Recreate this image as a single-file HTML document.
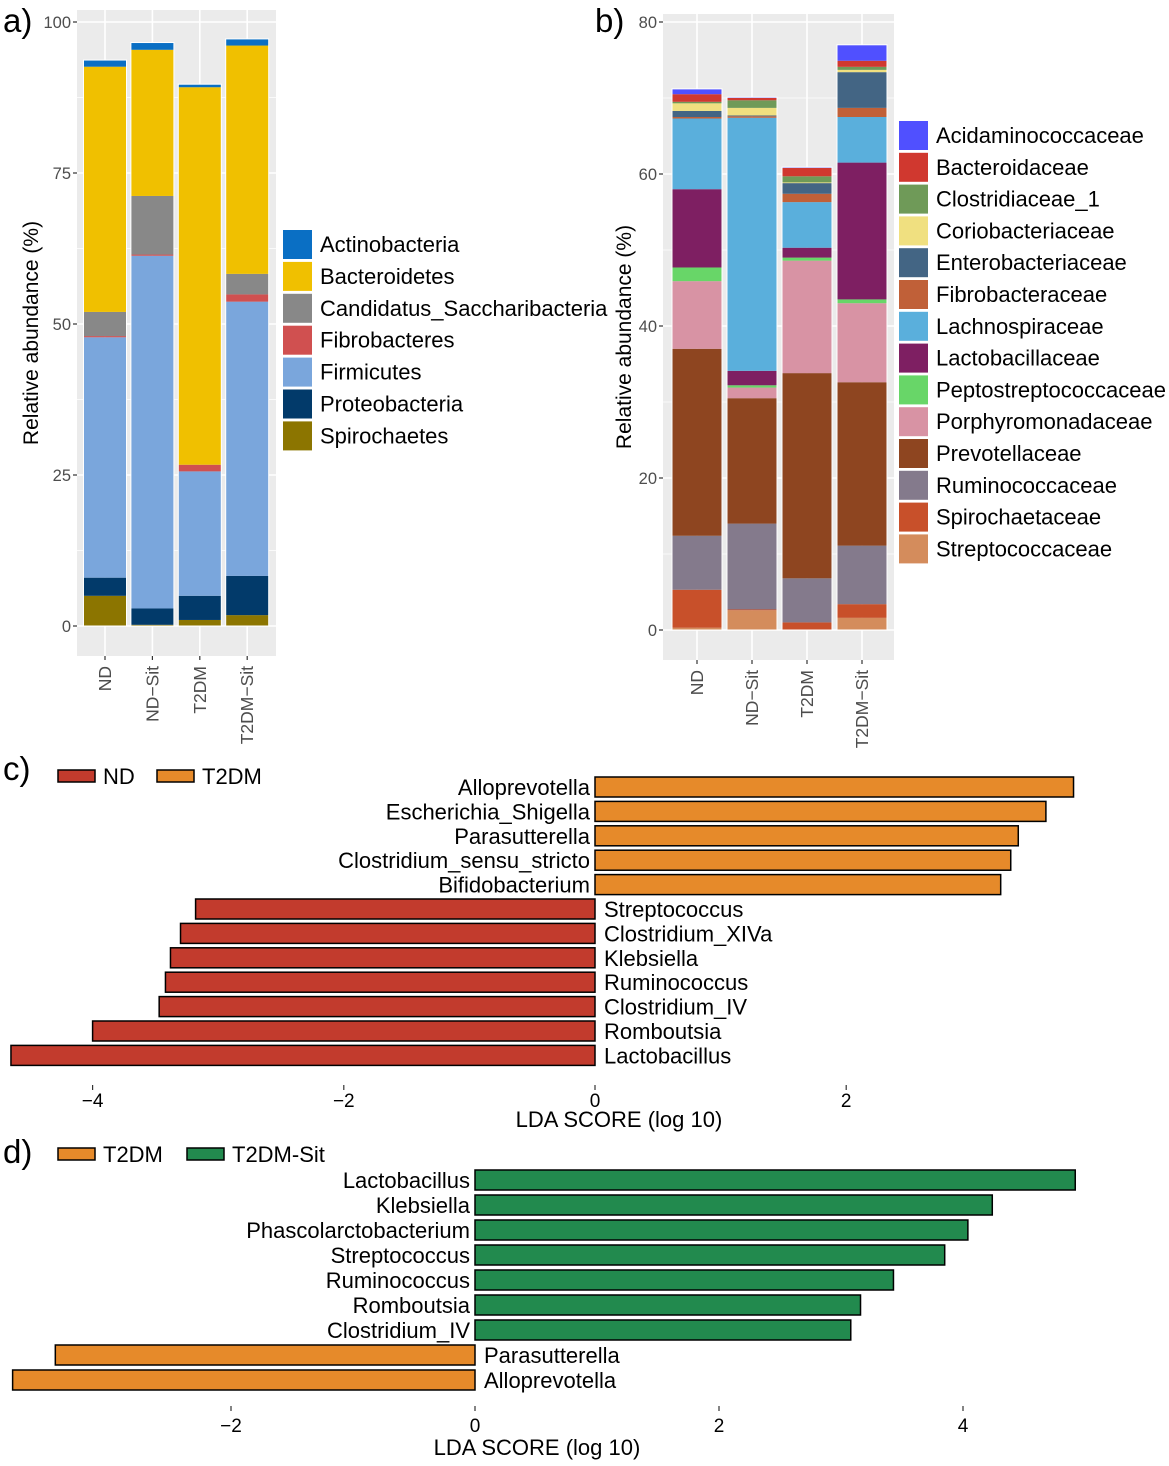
<!DOCTYPE html>
<html><head><meta charset="utf-8">
<style>
html,body{margin:0;padding:0;background:#fff;}
svg{display:block;font-family:"Liberation Sans",Arial,sans-serif;}
</style></head>
<body>
<svg id="fig" width="1169" height="1466" viewBox="0 0 1169 1466" xmlns="http://www.w3.org/2000/svg"></svg>
<script>
// ---------- Panel a data ----------
const aGroups = ["ND","ND\u2212Sit","T2DM","T2DM\u2212Sit"];
const aPhyla = ["Spirochaetes","Proteobacteria","Firmicutes","Fibrobacteres","Candidatus_Saccharibacteria","Bacteroidetes","Actinobacteria"];
const aSpiro = [5.0,0.2,1.0,1.8];
const aProteo = [3.0,2.7,4.0,6.5];
const aFirm = [39.8,58.4,20.6,45.4];
const aFibro = [0.2,0.2,1.1,1.2];
const aCand = [4.0,9.7,0.0,3.4];
const aBact = [40.6,24.2,62.5,37.8];
const aActino = [1.1,1.2,0.5,1.1];
const aTicks = [0,25,50,75,100];
// ---------- Panel b data ----------
const bGroups = ["ND","ND\u2212Sit","T2DM","T2DM\u2212Sit"];
const bFamilies = ["Streptococcaceae","Spirochaetaceae","Ruminococcaceae","Prevotellaceae","Porphyromonadaceae","Peptostreptococcaceae","Lactobacillaceae","Lachnospiraceae","Fibrobacteraceae","Enterobacteriaceae","Coriobacteriaceae","Clostridiaceae_1","Bacteroidaceae","Acidaminococcaceae"];
const bStrep = [0.3,2.6,0.0,1.6];
const bSpiro = [5.0,0.1,1.0,1.8];
const bRumin = [7.1,11.3,5.8,7.7];
const bPrev = [24.6,16.5,27.0,21.5];
const bPorph = [8.9,1.4,14.8,10.4];
const bPepto = [1.8,0.3,0.4,0.5];
const bLacto = [10.3,1.9,1.3,18.0];
const bLachno = [9.3,33.3,6.0,6.0];
const bFibro = [0.2,0.2,1.1,1.2];
const bEntero = [0.8,0.1,1.4,4.7];
const bCorio = [1.0,1.0,0.1,0.3];
const bClost = [0.2,1.0,0.8,0.4];
const bBact = [1.0,0.3,1.1,0.8];
const bAcid = [0.7,0.1,0.1,2.1];
const bTicks = [0,20,40,60,80];
// ---------- Panel c data ----------
const cTaxa = ["Alloprevotella","Escherichia_Shigella","Parasutterella","Clostridium_sensu_stricto","Bifidobacterium","Streptococcus","Clostridium_XIVa","Klebsiella","Ruminococcus","Clostridium_IV","Romboutsia","Lactobacillus"];
const cScores = [3.81,3.59,3.37,3.31,3.23,-3.18,-3.30,-3.38,-3.42,-3.47,-4.00,-4.65];
const cTicks = [-4,-2,0,2];
// ---------- Panel d data ----------
const dTaxa = ["Lactobacillus","Klebsiella","Phascolarctobacterium","Streptococcus","Ruminococcus","Romboutsia","Clostridium_IV","Parasutterella","Alloprevotella"];
const dScores = [4.92,4.24,4.04,3.85,3.43,3.16,3.08,-3.44,-3.79];
const dTicks = [-2,0,2,4];

const NS="http://www.w3.org/2000/svg";
const svg=document.getElementById('fig');
function mk(tag,attrs,parent,text){const e=document.createElementNS(NS,tag);for(const k in attrs)e.setAttribute(k,attrs[k]);if(text!==undefined)e.textContent=text;(parent||svg).appendChild(e);return e;}

function stackedPanel(cfg){
  const g=mk('g',{});
  
  
  const {x0,x1,yTop,yBot,vMin,vMax,pyMin,pyMax}=cfg;
  const yS=v=>pyMin+(v-vMin)*(pyMax-pyMin)/(vMax-vMin);
  const bg=mk('rect',{x:x0,y:yTop,width:x1-x0,height:yBot-yTop,fill:'#ebebeb'},g);
  
  
  for(let i=0;i<cfg.ticks.length-1;i++){
    const v=(cfg.ticks[i]+cfg.ticks[i+1])/2;
    mk('line',{x1:x0,x2:x1,y1:yS(v),y2:yS(v),stroke:'#fff','stroke-width':0.8},g);
  }
  cfg.ticks.forEach(t=>{
    mk('line',{x1:x0,x2:x1,y1:yS(t),y2:yS(t),stroke:'#fff','stroke-width':1.6},g);
    mk('line',{x1:x0-4,x2:x0,y1:yS(t),y2:yS(t),stroke:'#333','stroke-width':1.2},g);
    const tl=mk('text',{x:x0-6,y:yS(t)+6,'text-anchor':'end','font-size':16.5,fill:'#4d4d4d'},g,String(t));
    
    
  });
  const bx=i=>cfg.c0+i*cfg.step;
  cfg.groups.forEach((grp,i)=>{
    mk('line',{x1:bx(i),x2:bx(i),y1:yTop,y2:yBot,stroke:'#fff','stroke-width':1.6},g);
    mk('line',{x1:bx(i),x2:bx(i),y1:yBot,y2:yBot+4,stroke:'#333','stroke-width':1.2},g);
    const tl=mk('text',{x:0,y:0,'text-anchor':'end','font-size':17.5,fill:'#4d4d4d',transform:`translate(${bx(i)+6},${yBot+10}) rotate(-90)`},g,grp);
    
    
  });
  cfg.groups.forEach((grp,i)=>{
    let cum=0;
    cfg.series.forEach((s,k)=>{
      const v=s[i];
      const r=mk('rect',{x:bx(i)-cfg.bw/2,y:yS(cum+v),width:cfg.bw,height:Math.max(0,yS(cum)-yS(cum+v)),fill:cfg.colors[k]},g);
      
      
      cum+=v;
    });
    mk('rect',{x:bx(i)-cfg.bw/2,y:yS(cum),width:cfg.bw,height:yS(0)-yS(cum),fill:'none',stroke:'#fff','stroke-width':1},g);
  });
  const yt=mk('text',{x:0,y:0,'text-anchor':'middle','font-size':21,fill:'#000',transform:`translate(${cfg.ytX},${(yTop+yBot)/2}) rotate(-90)`},g,'Relative abundance (%)');
  
  
  for(let k=cfg.series.length-1,j=0;k>=0;k--,j++){
    const ly=cfg.legY+j*cfg.legStep;
    const le=mk('g',{},g);
    
    
    mk('rect',{x:cfg.legX,y:ly-14,width:29,height:29,fill:cfg.colors[k]},le);
    mk('text',{x:cfg.legX+37,y:ly+8,'font-size':22,fill:'#000'},le,cfg.labels[k]);
  }
}

const aColors=['#8c7500','#023a6a','#7aa6dc','#d05050','#888888','#f0c000','#0a6fc4'];
stackedPanel({name:'panel-a-chart',x0:77,x1:276,yTop:10,yBot:656,vMin:0,vMax:100,pyMin:626,pyMax:22,
  ticks:aTicks,groups:aGroups,series:[aSpiro,aProteo,aFirm,aFibro,aCand,aBact,aActino],colors:aColors,labels:aPhyla,
  c0:105,step:47.4,bw:43,ytX:38,legX:283,legY:244,legStep:31.9});

const bColors=['#d48c5c','#c8502a','#847a8c','#8e4520','#d893a4','#68d668','#7e1f62','#5aafdc','#c06038','#436584','#f0e080','#6f9a58','#d0382f','#5050ff'];
stackedPanel({name:'panel-b-chart',x0:663,x1:894,yTop:14,yBot:660,vMin:0,vMax:80,pyMin:630,pyMax:22,
  ticks:bTicks,groups:bGroups,series:[bStrep,bSpiro,bRumin,bPrev,bPorph,bPepto,bLacto,bLachno,bFibro,bEntero,bCorio,bClost,bBact,bAcid],colors:bColors,labels:bFamilies,
  c0:697,step:55,bw:50,ytX:631,legX:899,legY:135,legStep:31.8});

[['a)',3,32],['b)',595,32],['c)',3,780],['d)',3,1163]].forEach(([t,x,y])=>{
  const e=mk('text',{x:x,y:y,'font-size':33,fill:'#000'},svg,t);
  
  
});

function ldaPanel(cfg){
  const g=mk('g',{});
  
  
  const xS=v=>cfg.zeroX+v*cfg.ppu;
  cfg.taxa.forEach((t,i)=>{
    const v=cfg.scores[i];
    const cy=cfg.row0+i*cfg.rowStep;
    const col=v>=0?cfg.posColor:cfg.negColor;
    const r=mk('rect',{x:Math.min(xS(0),xS(v)),y:cy-10,width:Math.abs(xS(v)-xS(0)),height:20,fill:col,stroke:'#000','stroke-width':1.5},g);
    
    
    const lx=v>=0?xS(0)-5:xS(0)+9;
    const tl=mk('text',{x:lx,y:cy+8,'text-anchor':v>=0?'end':'start','font-size':22,fill:'#000'},g,t);
    
    
  });
  cfg.ticks.forEach(t=>{
    mk('line',{x1:xS(t),x2:xS(t),y1:cfg.tickY,y2:cfg.tickY+5,stroke:'#333','stroke-width':1.2},g);
    const tl=mk('text',{x:xS(t),y:cfg.tickY+cfg.labOff,'text-anchor':'middle','font-size':19,fill:'#000'},g,t<0?'\u2212'+Math.abs(t):String(t));
    
    
  });
  const xt=mk('text',{x:cfg.titleX,y:cfg.tickY+cfg.titleOff,'text-anchor':'middle','font-size':22,fill:'#000'},g,'LDA SCORE (log 10)');
  
  
  cfg.legend.forEach(([lab,col,x])=>{
    const le=mk('g',{},g);
    
    
    mk('rect',{x:x,y:cfg.legY-6,width:37,height:12,fill:col,stroke:'#000','stroke-width':1.5},le);
    mk('text',{x:x+45,y:cfg.legY+8,'font-size':22,fill:'#000'},le,lab);
  });
}
ldaPanel({name:'panel-c-chart',taxa:cTaxa,scores:cScores,ticks:cTicks,zeroX:595,ppu:125.6,row0:787,rowStep:24.4,
  posColor:'#e68a2a',negColor:'#c23b2d',tickY:1085,labOff:22,titleOff:42,titleX:619,legY:776,
  legend:[['ND','#c23b2d',58],['T2DM','#e68a2a',157]]});
ldaPanel({name:'panel-d-chart',taxa:dTaxa,scores:dScores,ticks:dTicks,zeroX:475,ppu:122,row0:1180,rowStep:25,
  posColor:'#228a4e',negColor:'#e68a2a',tickY:1406,labOff:26,titleOff:49,titleX:537,legY:1154,
  legend:[['T2DM','#e68a2a',58],['T2DM-Sit','#228a4e',187]]});
</script>
</body></html>
